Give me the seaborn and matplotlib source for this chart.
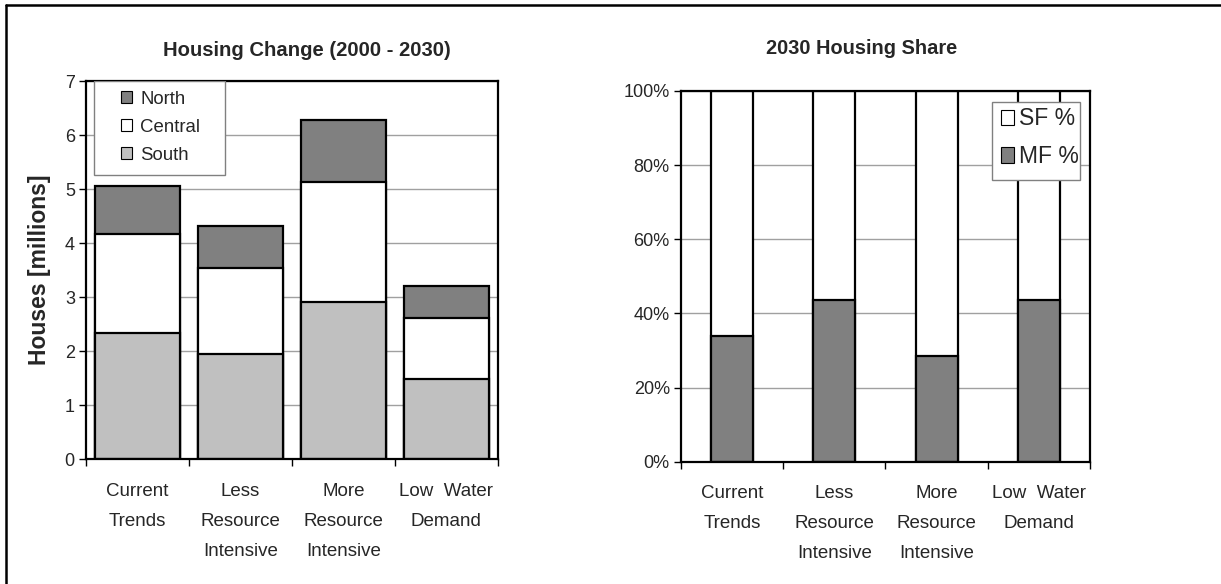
import numpy as np
import pandas as pd
import matplotlib
matplotlib.use('Agg')
import matplotlib.pyplot as plt
from matplotlib.lines import Line2D
import seaborn as sns

# scenario names and values
scenarios = ['Current\nTrends', 'Less\nResource\nIntensive', 'More\nResource\nIntensive', 'Low  Water\nDemand']
south = [2.33, 1.95, 2.91, 1.48]
central = [1.84, 1.59, 2.23, 1.14]
north = [0.89, 0.78, 1.15, 0.59]
mf_share = [33.9, 43.7, 28.6, 43.7]
sf_share = [100 - v for v in mf_share]

sns.set_theme(style='white')
plt.rcParams['font.family'] = ['Liberation Sans', 'DejaVu Sans']

fig = plt.figure(figsize=(12.21, 5.84), dpi=100)
ax1 = fig.add_axes([0.0704, 0.214, 0.3374, 0.647])
ax2 = fig.add_axes([0.5577, 0.2094, 0.335, 0.635])

grid_c = '#a0a0a0'
xfs = 13.5
yfs = 13

# Left panel: stacked housing change
df = pd.DataFrame({'scenario': scenarios, 'South': south, 'Central': central, 'North': north})
df['SC'] = df['South'] + df['Central']
df['Total'] = df['SC'] + df['North']
kw = dict(edgecolor='black', linewidth=1.6, width=0.83, ax=ax1, order=scenarios, zorder=3)
sns.barplot(data=df, x='scenario', y='Total', color='#808080', saturation=1, **kw)
sns.barplot(data=df, x='scenario', y='SC', color='white', saturation=1, **kw)
sns.barplot(data=df, x='scenario', y='South', color='#c0c0c0', saturation=1, **kw)
ax1.set_ylim(0, 7)
ax1.set_xlim(-0.5, 3.5)
ax1.set_yticks(range(0, 8))
ax1.set_ylabel('Houses [millions]', fontsize=16.5, fontweight='bold', labelpad=10)
ax1.set_xlabel('')

leg_handles = [
    plt.Rectangle((0, 0), 1, 1, facecolor='#808080', edgecolor='black', linewidth=0.8),
    plt.Rectangle((0, 0), 1, 1, facecolor='white', edgecolor='black', linewidth=0.8),
    plt.Rectangle((0, 0), 1, 1, facecolor='#c0c0c0', edgecolor='black', linewidth=0.8),
]
# legend frame drawn as its own box, like the wide Excel legend
ax1.add_patch(plt.Rectangle((0.0194, 0.751), 0.318, 0.249, transform=ax1.transAxes,
                            facecolor='white', edgecolor='#808080', linewidth=1.0, zorder=5))
leg1 = ax1.legend(leg_handles, ['North', 'Central', 'South'], loc='upper left',
                  bbox_to_anchor=(0.075, 0.985), fontsize=13.4, frameon=False,
                  handlelength=0.6, handleheight=0.6, handletextpad=0.45,
                  borderpad=0.2, labelspacing=0.6, borderaxespad=0)
leg1.set_zorder(6)

# Right panel: 2030 housing share
df2 = pd.DataFrame({'scenario': scenarios, 'MF': mf_share, 'Total': [m + s for m, s in zip(mf_share, sf_share)]})
kw2 = dict(edgecolor='black', linewidth=1.6, width=0.41, ax=ax2, order=scenarios, zorder=3, saturation=1)
sns.barplot(data=df2, x='scenario', y='Total', color='white', **kw2)
sns.barplot(data=df2, x='scenario', y='MF', color='#808080', **kw2)
ax2.set_ylim(0, 100)
ax2.set_xlim(-0.5, 3.5)
ax2.set_yticks(range(0, 101, 20))
ax2.set_yticklabels([f'{v}%' for v in range(0, 101, 20)])
ax2.set_ylabel('')
ax2.set_xlabel('')

leg_handles2 = [
    plt.Rectangle((0, 0), 1, 1, facecolor='white', edgecolor='black', linewidth=0.8),
    plt.Rectangle((0, 0), 1, 1, facecolor='#808080', edgecolor='black', linewidth=0.8),
]
ax2.add_patch(plt.Rectangle((0.760, 0.759), 0.216, 0.211, transform=ax2.transAxes,
                            facecolor='white', edgecolor='#808080', linewidth=1.0, zorder=5))
leg2 = ax2.legend(leg_handles2, ['SF %', 'MF %'], loc='upper left',
                  bbox_to_anchor=(0.775, 0.965), fontsize=16.5, frameon=False,
                  handlelength=0.55, handleheight=0.65, handletextpad=0.2,
                  borderpad=0.15, labelspacing=0.65, borderaxespad=0)
leg2.set_zorder(6)

for ax in (ax1, ax2):
    ax.set_facecolor('white')
    ax.yaxis.grid(True, color=grid_c, linewidth=1.0, zorder=0)
    ax.set_axisbelow(True)
    for s in ax.spines.values():
        s.set_visible(True)
        s.set_color('black')
        s.set_linewidth(1.6)
        s.set_zorder(4)
    ax.set_xticks(range(4))
    ax.set_xticklabels(scenarios, fontsize=xfs, linespacing=2.0, va='top')
    ax.set_xticks([-0.5, 0.5, 1.5, 2.5, 3.5], minor=True)
    ax.tick_params(axis='x', which='major', length=0, pad=17)
    ax.tick_params(axis='x', which='minor', length=5, width=1.0, color='black', bottom=True)
    ax.tick_params(axis='y', which='major', length=5, width=1.0, color='black', left=True,
                   labelsize=yfs, pad=3)

fig.text(0.251, 0.913, 'Housing Change (2000 - 2030)', ha='center', va='center',
         fontsize=14.6, fontweight='bold')
fig.text(0.706, 0.917, '2030 Housing Share', ha='center', va='center',
         fontsize=14.4, fontweight='bold')

# outer chart border (left and top edges visible in the original crop)
fig.add_artist(Line2D([0.0049, 0.0049], [0.0, 0.9915], transform=fig.transFigure,
                      color='black', linewidth=1.8))
fig.add_artist(Line2D([0.0049, 1.0], [0.9915, 0.9915], transform=fig.transFigure,
                      color='black', linewidth=1.8))

fig.savefig('out.png', dpi=100, facecolor='white')
